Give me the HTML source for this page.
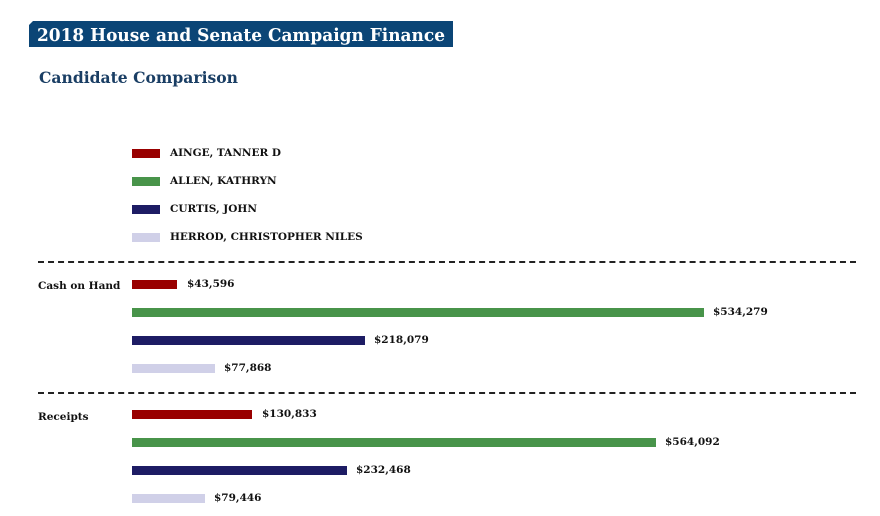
<!DOCTYPE html>
<html><head><style>
body{margin:0;width:880px;height:516px;background:#fff;position:relative;overflow:hidden;font-family:"DejaVu Serif","Liberation Serif",serif;}
.a{position:absolute}
.t{font-weight:bold;font-size:10.5px;color:#111;white-space:nowrap;line-height:12px}
.b{position:absolute;height:9px}
.dash{position:absolute;left:38px;width:818px;height:0;border-top:2px dashed #222}
</style></head><body>
<div class="a" style="left:29px;top:21px;width:424px;height:26px;background:#0b4576;clip-path:polygon(4px 0,100% 0,100% 100%,0 100%,0 4px)"></div>
<svg class="a" style="left:0;top:0" width="880" height="100">
<text x="37" y="41" fill="#fff" font-family="DejaVu Serif,serif" font-weight="bold" font-size="18" textLength="408" lengthAdjust="spacingAndGlyphs">2018 House and Senate Campaign Finance</text>
<text x="39" y="83" fill="#1a3e64" font-family="DejaVu Serif,serif" font-weight="bold" font-size="15.5" textLength="199" lengthAdjust="spacingAndGlyphs">Candidate Comparison</text>
</svg>

<div class="b" style="left:132px;top:149px;width:28px;background:#990000"></div><div class="a t" style="left:170px;top:147px">AINGE, TANNER D</div>
<div class="b" style="left:132px;top:177px;width:28px;background:#48944a"></div><div class="a t" style="left:170px;top:175px">ALLEN, KATHRYN</div>
<div class="b" style="left:132px;top:205px;width:28px;background:#1d1c64"></div><div class="a t" style="left:170px;top:203px">CURTIS, JOHN</div>
<div class="b" style="left:132px;top:233px;width:28px;background:#d0d0e8"></div><div class="a t" style="left:170px;top:231px">HERROD, CHRISTOPHER NILES</div>

<div class="dash" style="top:261px"></div>
<div class="a t" style="left:38px;top:280px">Cash on Hand</div>
<div class="b" style="left:132px;top:280px;width:45px;background:#990000"></div><div class="a t" style="left:187px;top:278px">$43,596</div>
<div class="b" style="left:132px;top:308px;width:572px;background:#48944a"></div><div class="a t" style="left:713px;top:306px">$534,279</div>
<div class="b" style="left:132px;top:336px;width:233px;background:#1d1c64"></div><div class="a t" style="left:374px;top:334px">$218,079</div>
<div class="b" style="left:132px;top:364px;width:83px;background:#d0d0e8"></div><div class="a t" style="left:224px;top:362px">$77,868</div>

<div class="dash" style="top:392px"></div>
<div class="a t" style="left:38px;top:411px">Receipts</div>
<div class="b" style="left:132px;top:410px;width:120px;background:#990000"></div><div class="a t" style="left:262px;top:408px">$130,833</div>
<div class="b" style="left:132px;top:438px;width:524px;background:#48944a"></div><div class="a t" style="left:665px;top:436px">$564,092</div>
<div class="b" style="left:132px;top:466px;width:215px;background:#1d1c64"></div><div class="a t" style="left:356px;top:464px">$232,468</div>
<div class="b" style="left:132px;top:494px;width:73px;background:#d0d0e8"></div><div class="a t" style="left:214px;top:492px">$79,446</div>
</body></html>
